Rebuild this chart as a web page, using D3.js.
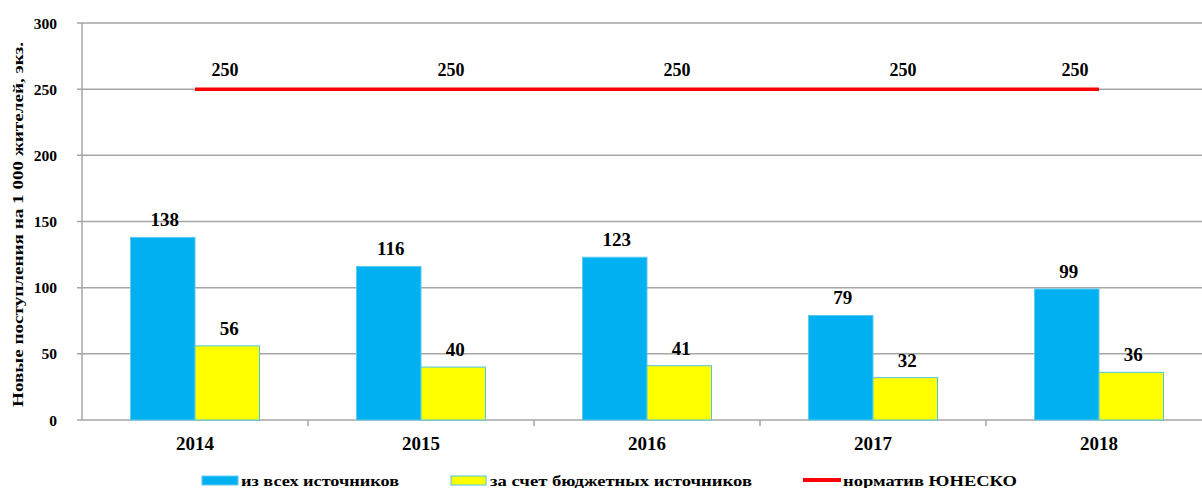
<!DOCTYPE html>
<html><head><meta charset="utf-8">
<script src="https://cdn.jsdelivr.net/npm/d3@7"></script>
<style>
body{margin:0;background:#fff;}
svg text{font-family:"Liberation Serif","Times New Roman","DejaVu Serif",serif;font-weight:bold;fill:#000;}
</style></head>
<body><svg id="c" width="1202" height="488"></svg>
<script>
const years = ["2014","2015","2016","2017","2018"];
const allSources = [138,116,123,79,99];
const budgetSources = [56,40,41,32,36];
const unescoNorm = [250,250,250,250,250];
const seriesNames = ["из всех источников","за счет бюджетных источников","норматив  ЮНЕСКО"];
const yTicks = [0,50,100,150,200,250,300];
const yTitle = "Новые  поступления  на 1 000 жителей, экз.";

(function(){
const svg = d3.select("#c");
const pL=82, pR=1212, pT=23, pB=420;
const x = d3.scaleBand().domain(years).range([pL,pR]).padding(0);
const bw = x.bandwidth();
const x1 = d3.scaleBand().domain([0,1]).range([0,bw]).paddingInner(0).paddingOuter(0.752);
const y = d3.scaleLinear().domain([0,300]).range([pB,pT]);

// gridlines
svg.append("g").selectAll("line").data(yTicks).join("line")
  .attr("x1",pL-5).attr("x2",pR).attr("y1",d=>y(d)).attr("y2",d=>y(d))
  .attr("stroke","#a6a6a6").attr("stroke-width",1.5);
// y axis line
svg.append("line").attr("x1",pL).attr("x2",pL).attr("y1",pT).attr("y2",pB)
  .attr("stroke","#a6a6a6").attr("stroke-width",1.5);
// x ticks
svg.append("g").selectAll("line").data(years.slice(1)).join("line")
  .attr("x1",d=>x(d)).attr("x2",d=>x(d)).attr("y1",pB).attr("y2",pB+6)
  .attr("stroke","#a6a6a6").attr("stroke-width",1.5);

// y tick labels
svg.append("g").selectAll("text").data(yTicks).join("text")
  .attr("x",57).attr("y",d=>y(d)+5.5).attr("text-anchor","end")
  .style("font-size","15.5px").text(d=>d);

// y title
svg.append("text").attr("transform",`translate(23,${(pT+pB)/2+3}) rotate(-90)`)
  .attr("text-anchor","middle").style("font-size","14px")
  .attr("textLength",365).attr("lengthAdjust","spacingAndGlyphs").text(yTitle);

// bars
const series = [
  {vals:allSources, fill:"#00B0F0", stroke:"#5ccbee"},
  {vals:budgetSources, fill:"#FFFF00", stroke:"#4bc6e8"}
];
series.forEach((s,i)=>{
  svg.append("g").selectAll("rect").data(years).join("rect")
    .attr("x",d=>x(d)+x1(i)).attr("width",x1.bandwidth())
    .attr("y",(d,j)=>y(s.vals[j])).attr("height",(d,j)=>pB-y(s.vals[j]))
    .attr("fill",s.fill).attr("stroke",s.stroke).attr("stroke-width",1);
  svg.append("g").selectAll("text").data(years).join("text")
    .attr("x",d=>x(d)+x1(i)+x1.bandwidth()/2+2).attr("y",(d,j)=>y(s.vals[j])-11)
    .attr("text-anchor","middle").style("font-size","19px").text((d,j)=>s.vals[j]);
});

// UNESCO line
const line = d3.line().x((d,j)=>x(years[j])+bw/2).y(d=>y(d));
svg.append("path").datum(unescoNorm).attr("d",line).attr("fill","none")
  .attr("stroke","#FF0000").attr("stroke-width",3.5);
svg.append("g").selectAll("text").data(unescoNorm).join("text")
  .attr("x",(d,j)=>j<years.length-1 ? x(years[j])+bw/2+30 : x(years[j])+bw/2-24)
  .attr("y",d=>y(d)-13).attr("text-anchor","middle").style("font-size","18px").text(d=>d);

// year labels
svg.append("g").selectAll("text").data(years).join("text")
  .attr("x",d=>x(d)+bw/2).attr("y",450).attr("text-anchor","middle")
  .style("font-size","19px").text(d=>d);

// legend
const lg = svg.append("g");
const lx = [202,451,803];
const ly = 480;
const tl = [158,262,174];
lg.append("rect").attr("x",lx[0]).attr("y",ly-4).attr("width",36).attr("height",9).attr("fill","#00B0F0").attr("stroke","#5ccbee");
lg.append("rect").attr("x",lx[1]).attr("y",ly-4).attr("width",35).attr("height",9).attr("fill","#FFFF00").attr("stroke","#4bc6e8");
lg.append("line").attr("x1",lx[2]).attr("x2",lx[2]+38).attr("y1",ly).attr("y2",ly).attr("stroke","#FF0000").attr("stroke-width",4);
seriesNames.forEach((n,i)=>{
  lg.append("text").attr("x",lx[i]+(i==2?40:39)).attr("y",ly+6)
    .style("font-size","15px").attr("textLength",tl[i]).attr("lengthAdjust","spacingAndGlyphs").text(n);
});
})();
</script></body></html>
